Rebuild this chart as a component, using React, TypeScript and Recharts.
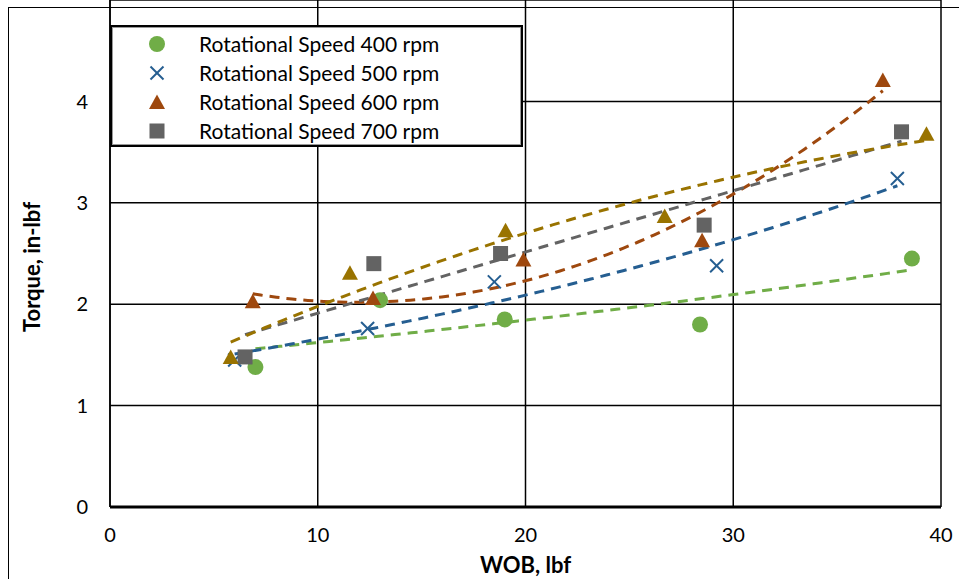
import React from 'react';
import { ScatterChart, Scatter, XAxis, YAxis, CartesianGrid, Legend, Label } from 'recharts';

// WOB (lbf) and torque (in-lbf)
const wob400 = [7.0, 13.0, 19.0, 28.4, 38.6];
const torque400 = [1.38, 2.04, 1.85, 1.8, 2.45];
const wob500 = [6.0, 12.4, 18.5, 29.2, 37.9];
const torque500 = [1.45, 1.76, 2.22, 2.38, 3.24];
const wob600 = [6.87, 12.66, 19.9, 28.5, 37.2];
const torque600 = [2.03, 2.06, 2.44, 2.63, 4.21];
const wob700 = [6.5, 12.7, 18.8, 28.6, 38.1];
const torque700 = [1.48, 2.4, 2.5, 2.78, 3.7];
const wobExtra = [5.81, 11.55, 19.04, 26.7, 39.3];
const torqueExtra = [1.48, 2.31, 2.73, 2.87, 3.68];

const xTicks = [0, 10, 20, 30, 40];
const yTicks = [0, 1, 2, 3, 4];
const legendLabels = [
  'Rotational Speed 400 rpm',
  'Rotational Speed 500 rpm',
  'Rotational Speed 600 rpm',
  'Rotational Speed 700 rpm',
];

const C_GREEN = '#70AD47';
const C_BLUE = '#255E91';
const C_ORANGE = '#9E480E';
const C_GRAY = '#636363';
const C_GOLD = '#997300';
const FONT = 'Lato, "Open Sans", sans-serif';

type Pt = { x: number; y: number };
const zip = (xs: number[], ys: number[]): Pt[] => xs.map((x, i) => ({ x, y: ys[i] }));

// Trendline fits (as spreadsheet trendlines do)
function fitLinear(xs: number[], ys: number[]) {
  const n = xs.length;
  const mx = xs.reduce((a, b) => a + b, 0) / n;
  const my = ys.reduce((a, b) => a + b, 0) / n;
  let sxx = 0, sxy = 0;
  xs.forEach((x, i) => { sxx += (x - mx) ** 2; sxy += (x - mx) * (ys[i] - my); });
  const b = sxy / sxx;
  const a = my - b * mx;
  return (x: number) => a + b * x;
}
function fitExp(xs: number[], ys: number[]) {
  const f = fitLinear(xs, ys.map((y) => Math.log(y)));
  return (x: number) => Math.exp(f(x));
}
function fitPoly2(xs: number[], ys: number[]) {
  const s = (p: number) => xs.reduce((a, x) => a + x ** p, 0);
  const t = (p: number) => xs.reduce((a, x, i) => a + x ** p * ys[i], 0);
  const M = [
    [s(0), s(1), s(2), t(0)],
    [s(1), s(2), s(3), t(1)],
    [s(2), s(3), s(4), t(2)],
  ];
  for (let i = 0; i < 3; i++) {
    for (let k = i + 1; k < 3; k++) {
      const f = M[k][i] / M[i][i];
      for (let j = i; j < 4; j++) M[k][j] -= f * M[i][j];
    }
  }
  const c = [0, 0, 0];
  for (let i = 2; i >= 0; i--) {
    let v = M[i][3];
    for (let j = i + 1; j < 3; j++) v -= M[i][j] * c[j];
    c[i] = v / M[i][i];
  }
  return (x: number) => c[0] + c[1] * x + c[2] * x * x;
}
function trend(xs: number[], f: (x: number) => number): Pt[] {
  const lo = Math.min(...xs);
  const hi = Math.max(...xs);
  const n = 80;
  const out: Pt[] = [];
  for (let i = 0; i <= n; i++) {
    const x = lo + ((hi - lo) * i) / n;
    out.push({ x, y: f(x) });
  }
  return out;
}

const trend400 = trend(wob400, fitExp(wob400, torque400));
const trend500 = trend(wob500, fitExp(wob500, torque500));
const trend600 = trend(wob600, fitPoly2(wob600, torque600));
const trend700 = trend(wob700, fitLinear(wob700, torque700));
const trendExtra = trend(wobExtra, fitPoly2(wobExtra, torqueExtra));

const CircleShape = (p: any) => <circle cx={p.cx} cy={p.cy} r={8} fill={C_GREEN} />;
const XShape = (p: any) => (
  <g stroke={C_BLUE} strokeWidth={2}>
    <line x1={p.cx - 6.5} y1={p.cy - 6.5} x2={p.cx + 6.5} y2={p.cy + 6.5} />
    <line x1={p.cx - 6.5} y1={p.cy + 6.5} x2={p.cx + 6.5} y2={p.cy - 6.5} />
  </g>
);
const triShape = (color: string) => (p: any) => (
  <polygon
    points={`${p.cx},${p.cy - 7.5} ${p.cx + 8},${p.cy + 7} ${p.cx - 8},${p.cy + 7}`}
    fill={color}
  />
);
const SquareShape = (p: any) => (
  <rect x={p.cx - 7.5} y={p.cy - 7.5} width={15} height={15} fill={C_GRAY} />
);
const NoShape = () => <g />;

const legendMarkers = [
  <svg width={20} height={20} key="a"><circle cx={10} cy={10} r={8} fill={C_GREEN} /></svg>,
  <svg width={20} height={20} key="b">
    <g stroke={C_BLUE} strokeWidth={2}>
      <line x1={3.5} y1={3.5} x2={16.5} y2={16.5} />
      <line x1={3.5} y1={16.5} x2={16.5} y2={3.5} />
    </g>
  </svg>,
  <svg width={20} height={20} key="c"><polygon points="10,2.5 18,17 2,17" fill={C_ORANGE} /></svg>,
  <svg width={20} height={20} key="d"><rect x={2.5} y={2.5} width={15} height={15} fill={C_GRAY} /></svg>,
];

const LegendBox = () => (
  <div
    style={{
      boxSizing: 'border-box',
      width: 413,
      height: 122,
      background: '#fff',
      border: '2.5px solid #000',
      boxShadow: 'inset 0 0 0 1px #999',
      paddingTop: 2,
      fontFamily: FONT,
      fontSize: 21,
      color: '#000',
    }}
  >
    {legendLabels.map((t, i) => (
      <div key={t} style={{ display: 'flex', alignItems: 'center', height: 29 }}>
        <div style={{ width: 36, marginLeft: 27, display: 'flex', justifyContent: 'center' }}>
          {legendMarkers[i]}
        </div>
        <span style={{ marginLeft: 24 }}>{t}</span>
      </div>
    ))}
  </div>
);

const lineStyle = (c: string) => ({ stroke: c, strokeWidth: 3, strokeDasharray: '10 7' });

export default function App() {
  return (
    <div style={{ position: 'absolute', left: 0, top: 0, width: 959, height: 579, background: '#fff' }}>
      <style>{'body{margin:0;overflow:hidden;background:#fff}'}</style>
      <ScatterChart
        width={959}
        height={579}
        margin={{ top: 0, right: 18, bottom: 0, left: 0 }}
        style={{ position: 'absolute', left: 0, top: 0 }}
      >
        <CartesianGrid stroke="#000" strokeWidth={1.5} />
        <XAxis
          type="number"
          dataKey="x"
          domain={[0, 40]}
          ticks={xTicks}
          tickSize={0}
          tickMargin={21}
          axisLine={{ stroke: '#000', strokeWidth: 3 }}
          tick={{ fill: '#000', fontSize: 20, fontFamily: FONT }}
          height={72}
        >
          <Label
            content={(props: any) => {
              const vb = props.viewBox;
              return (
                <text
                  x={vb.x + vb.width / 2}
                  y={564}
                  textAnchor="middle"
                  dominantBaseline="central"
                  fontFamily={FONT}
                  fontWeight="bold"
                  fontSize={22}
                  fill="#000"
                >
                  WOB, lbf
                </text>
              );
            }}
          />
        </XAxis>
        <YAxis
          type="number"
          dataKey="y"
          domain={[0, 5]}
          ticks={yTicks}
          tickSize={0}
          tickMargin={22}
          axisLine={{ stroke: '#000', strokeWidth: 1.5 }}
          tick={{ fill: '#000', fontSize: 20, fontFamily: FONT }}
          width={110}
        >
          <Label
            content={() => (
              <text
                x={31}
                y={267}
                transform="rotate(-90, 31, 267)"
                textAnchor="middle"
                dominantBaseline="central"
                fontFamily={FONT}
                fontWeight="bold"
                fontSize={22}
                fill="#000"
              >
                Torque, in-lbf
              </text>
            )}
          />
        </YAxis>
        <Legend
          layout="vertical"
          align="center"
          verticalAlign="middle"
          content={() => <LegendBox />}
          wrapperStyle={{ position: 'absolute', left: 110, top: 25, width: 413, height: 122 }}
        />
        <Scatter data={trend400} line={lineStyle(C_GREEN)} shape={NoShape} legendType="none" isAnimationActive={false} />
        <Scatter data={trend500} line={lineStyle(C_BLUE)} shape={NoShape} legendType="none" isAnimationActive={false} />
        <Scatter data={trend600} line={lineStyle(C_ORANGE)} shape={NoShape} legendType="none" isAnimationActive={false} />
        <Scatter data={trend700} line={lineStyle(C_GRAY)} shape={NoShape} legendType="none" isAnimationActive={false} />
        <Scatter data={trendExtra} line={lineStyle(C_GOLD)} shape={NoShape} legendType="none" isAnimationActive={false} />
        <Scatter name={legendLabels[0]} data={zip(wob400, torque400)} shape={CircleShape} isAnimationActive={false} />
        <Scatter name={legendLabels[1]} data={zip(wob500, torque500)} shape={XShape} isAnimationActive={false} />
        <Scatter name={legendLabels[2]} data={zip(wob600, torque600)} shape={triShape(C_ORANGE)} isAnimationActive={false} />
        <Scatter name={legendLabels[3]} data={zip(wob700, torque700)} shape={SquareShape} isAnimationActive={false} />
        <Scatter data={zip(wobExtra, torqueExtra)} shape={triShape(C_GOLD)} legendType="none" isAnimationActive={false} />
      </ScatterChart>
      <div
        style={{
          position: 'absolute',
          left: 8,
          top: 7,
          width: 951,
          height: 572,
          borderLeft: '1.5px solid #000',
          borderTop: '1.5px solid #000',
          pointerEvents: 'none',
          boxSizing: 'border-box',
        }}
      />
    </div>
  );
}
